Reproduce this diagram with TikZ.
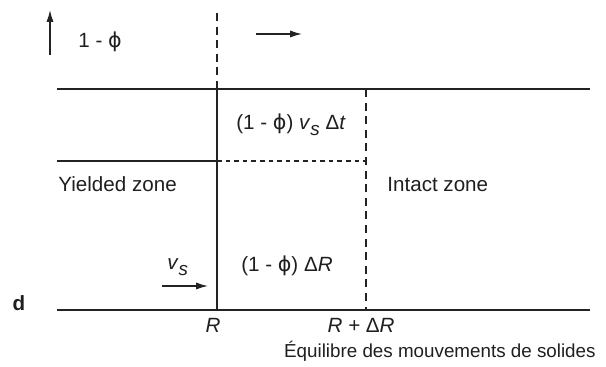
\documentclass[tikz,border=0pt]{standalone}
\usepackage{fontspec}
\setmainfont{Liberation Sans}
\newfontfamily\phifont{DejaVu Sans}
\usepackage{xcolor}
\usepackage{tikz}
\usetikzlibrary{arrows.meta, positioning, calc}
\definecolor{lineink}{RGB}{35,35,35}
\newcommand{\vphi}{{\phifont ϕ}}
\newcommand{\vsub}{\textit{v}\raisebox{-0.55ex}{\fontsize{9.4}{10}\selectfont\textit{s}}}
\tikzset{
  zoneline/.style={line width=0.75pt, lineink},
  zonedash/.style={zoneline, dash pattern=on 4pt off 2.8pt},
  finedash/.style={zoneline, dash pattern=on 2.3pt off 2pt},
  flowarrow/.style={-{Latex[length=6pt,width=3.6pt]}, line width=0.7pt, lineink},
  txt/.style={inner sep=0pt, font=\fontsize{10.3}{12}\selectfont, text=black!88},
  captiontxt/.style={txt, font=\fontsize{9.4}{11}\selectfont}
}

\begin{document}
\begin{tikzpicture}[x=0.5pt, y=-0.5pt]
  \useasboundingbox (0,0) rectangle (606,367);

  % Corner points of the zones
  \coordinate (topL) at (57,89);
  \coordinate (topR) at (590,89);
  \coordinate (midL) at (57,161);
  \coordinate (midR) at (217,161);
  \coordinate (midD) at (366,161);
  \coordinate (botL) at (57,310);
  \coordinate (botR) at (590,310);
  \coordinate (frontT) at (217,89);
  \coordinate (frontB) at (217,310);
  \coordinate (frontU) at (217,13);
  \coordinate (nextT) at (366,89);
  \coordinate (nextB) at (366,310);

  % Draw the horizontal lines
  \draw[zoneline] (topL) -- (topR);
  \draw[zoneline] (botL) -- (botR);
  \draw[zoneline] (midL) -- (midR);
  \draw[finedash] (midR) -- (midD);

  % Draw the front at R and at R + dR
  \draw[zoneline] (frontT) -- (frontB);
  \draw[zonedash] (frontU) -- (frontT);
  \draw[zonedash] (nextT) -- (nextB);

  % Arrows for the motion
  \coordinate (upB) at (50,55);
  \coordinate (upT) at (50,10);
  \draw[flowarrow] (upB) -- (upT);
  \coordinate (rightA) at (256,34);
  \coordinate (rightB) at (302,34);
  \draw[flowarrow] (rightA) -- (rightB);
  \coordinate (vsA) at (162,286);
  \coordinate (vsB) at (208,286);
  \draw[flowarrow] (vsA) -- (vsB);

  % Labels
  \node[txt, anchor=base west] (porosity) at (78,48) {1 - \vphi};
  \node[txt, anchor=base] (flux) at (291,130) {(1 - \vphi) \vsub\ Δ\textit{t}};
  \node[txt, anchor=base west] (yielded) at (58,192) {Yielded zone};
  \node[txt, anchor=base west] (intact) at (387,192) {Intact zone};
  \node[txt, anchor=base west] (vs) at (167,270) {\vsub};
  \node[txt, anchor=base] (growth) at (287,272) {(1 - \vphi) Δ\textit{R}};
  \node[txt, anchor=base, font=\fontsize{10.3}{12}\selectfont\bfseries] (dlabel) at (19,311) {d};
  \node[txt, anchor=base] (radius) at (213,333) {\textit{R}};
  \node[txt, anchor=base] (radiusnext) at (361,333) {\textit{R + }Δ\textit{R}};
  \node[captiontxt, anchor=base east] (caption) at (596,358) {Équilibre des mouvements de solides};
\end{tikzpicture}
\end{document}
